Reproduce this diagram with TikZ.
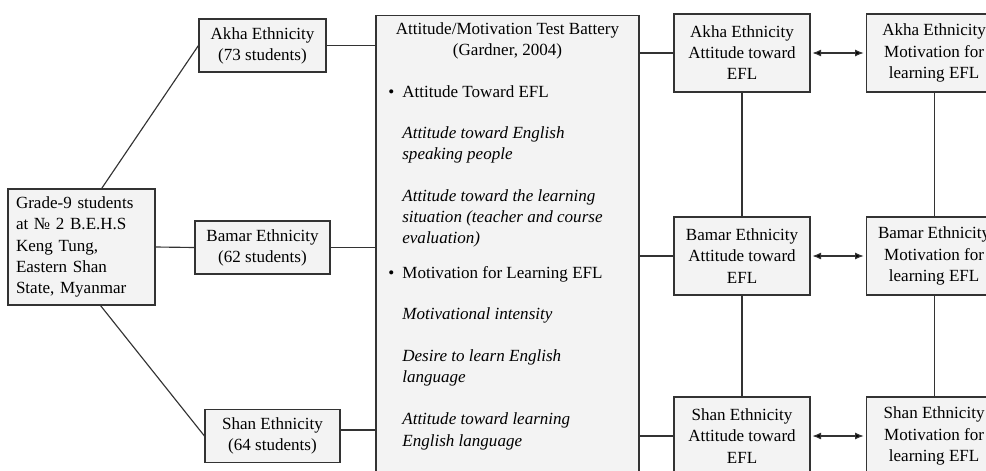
\documentclass[tikz,border=0pt]{standalone}
\usepackage{fontspec}
\setmainfont{Liberation Serif}
\usetikzlibrary{positioning,arrows.meta}
\definecolor{boxfill}{HTML}{F3F3F3}
\definecolor{boxline}{HTML}{333333}
\begin{document}
\begin{tikzpicture}[x=0.02cm, y=-0.02cm, node distance=1.1cm,
        font=\fontsize{9.7}{12}\selectfont,
        box/.style={draw=boxline, fill=boxfill, line width=0.65pt, align=center},
        group/.style={box, minimum width=2.7cm, minimum height=1.06cm},
        result/.style={box, minimum width=2.72cm, minimum height=1.56cm},
        link/.style={draw=boxline, line width=0.65pt},
        both/.style={{Latex[length=5pt,width=4pt]}-{Latex[length=5pt,width=4pt]}, shorten <=1pt, shorten >=1pt}]
        \useasboundingbox (0,0) rectangle (986,470);
        \clip (0,0) rectangle (986,470);

        \node (grade) [box, align=left, text width=2.62cm, inner xsep=0.16cm, minimum height=2.32cm] at (81.5,247) {Grade-9 students\\at № 2 B.E.H.S\\Keng Tung,\\Eastern Shan\\State, Myanmar};
        \node (akha) [group, minimum width=2.54cm] at (262.5,45.5) {Akha Ethnicity\\(73 students)};
        \node (bamar) [group] at (262.5,247.5) {Bamar Ethnicity\\(62 students)};
        \node (shan) [group] at (272.5,436) {Shan Ethnicity\\(64 students)};

        \node (battery) [box, anchor=north, minimum width=5.26cm, minimum height=9.8cm] at (507.5,15) {};
        \node (batterytitle) [align=center] at (507.5,41) {Attitude/Motivation Test Battery\\(Gardner, 2004)};
        \node (batteryitems) [anchor=north west, inner sep=0pt] at (388,82) {%
            \begin{tabular}{@{}p{0.28cm}@{}l@{}}
            \textbullet & Attitude Toward EFL\\[0.4cm]
            & \textit{Attitude toward English}\\
            & \textit{speaking people}\\[0.42cm]
            & \textit{Attitude toward the learning}\\
            & \textit{situation (teacher and course}\\
            & \textit{evaluation)}\\[0.28cm]
            \textbullet & Motivation for Learning EFL\\[0.4cm]
            & \textit{Motivational intensity}\\[0.42cm]
            & \textit{Desire to learn English}\\
            & \textit{language}\\[0.42cm]
            & \textit{Attitude toward learning}\\
            & \textit{English language}
            \end{tabular}};

        \node (akhaatt) [result] at (742,53) {Akha Ethnicity\\Attitude toward\\EFL};
        \node (bamaratt) [result] at (742,256) {Bamar Ethnicity\\Attitude toward\\EFL};
        \node (shanatt) [result] at (742,436) {Shan Ethnicity\\Attitude toward\\EFL};
        \node (akhamot) [result, right=of akhaatt] {Akha Ethnicity\\Motivation for\\learning EFL};
        \node (bamarmot) [result, right=of bamaratt] {Bamar Ethnicity\\Motivation for\\learning EFL};
        \node (shanmot) [result, right=of shanatt] {Shan Ethnicity\\Motivation for\\learning EFL};

        \draw[link] (grade.71) -- (akha.west);
        \draw[link] (grade.east) -- (bamar.west);
        \draw[link] (grade.-72) -- (shan.west);
        \draw[link] (akha.east) -- (akha.east -| battery.west);
        \draw[link] (bamar.east) -- (bamar.east -| battery.west);
        \draw[link] (shan.5) -- (shan.5 -| battery.west);
        \draw[link] (battery.east |- akhaatt.west) -- (akhaatt.west);
        \draw[link] (battery.east |- bamaratt.west) -- (bamaratt.west);
        \draw[link] (battery.east |- shanatt.west) -- (shanatt.west);

        \draw[link] (akhaatt)
        edge (bamaratt)
        edge[both] (akhamot);
        \draw[link] (bamaratt)
        edge (shanatt)
        edge[both] (bamarmot);
        \draw[link] (shanatt)
        edge[both] (shanmot);
        \draw[link] (akhamot)
        edge (bamarmot);
        \draw[link] (bamarmot)
        edge (shanmot);
    \end{tikzpicture}
\end{document}
